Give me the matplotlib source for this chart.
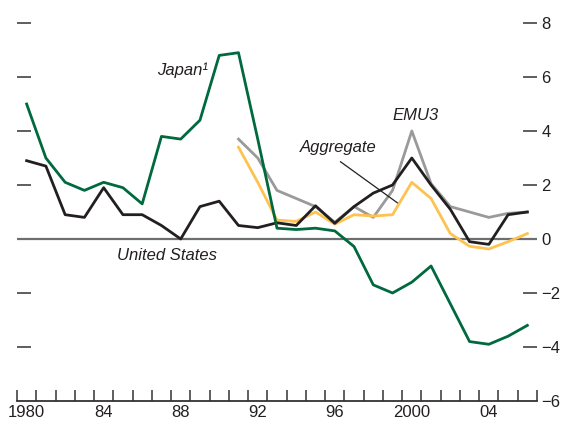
import numpy as np
import matplotlib
matplotlib.use("Agg")
import matplotlib.pyplot as plt

plt.rcParams['font.family'] = ['Liberation Sans', 'DejaVu Sans']

# data (percent)
years = np.arange(1980, 2007)
japan = [5.0, 3.0, 2.1, 1.8, 2.1, 1.9, 1.3, 3.8, 3.7, 4.4, 6.8, 6.9,
         3.7, 0.4, 0.35, 0.4, 0.3, -0.28, -1.7, -2.0, -1.6, -1.0,
         -2.4, -3.8, -3.9, -3.6, -3.2]
us = [2.9, 2.7, 0.9, 0.8, 1.9, 0.9, 0.9, 0.5, 0.0, 1.2, 1.4, 0.5,
      0.42, 0.6, 0.5, 1.23, 0.58, 1.2, 1.7, 2.0, 3.0, 2.0,
      1.1, -0.1, -0.2, 0.9, 1.0]
emu_years = np.arange(1991, 2007)
emu = [3.7, 3.0, 1.8, 1.5, 1.2, 0.62, 1.2, 0.8, 1.8, 4.0, 2.05,
       1.2, 1.0, 0.8, 0.95, 1.0]
aggregate = [3.4, 2.1, 0.7, 0.65, 1.0, 0.55, 0.9, 0.85, 0.9, 2.1, 1.5,
             0.2, -0.27, -0.37, -0.1, 0.2]

xlabels = ['1980', '84', '88', '92', '96', '2000', '04']
xlabel_pos = [1980, 1984, 1988, 1992, 1996, 2000, 2004]
yticks = [-6, -4, -2, 0, 2, 4, 6, 8]

green = '#00693e'
black = '#231f20'
gray = '#9a9a9b'
yellow = '#fdc250'

fig = plt.figure(figsize=(5.63, 4.22), dpi=100)
ax = fig.add_axes([0.0302, 0.0498, 0.9236, 0.8957])

ax.axhline(0, color='#6d6e70', lw=1.6, zorder=1)
ax.plot(emu_years, emu, color=gray, lw=2, zorder=2)
ax.plot(emu_years, aggregate, color=yellow, lw=2, zorder=3)
ax.plot(years, us, color=black, lw=2, zorder=4)
ax.plot(years, japan, color=green, lw=2, zorder=5)

ax.set_xlim(1979.5, 2006.5)
ax.set_ylim(-6, 8)

for s in ['top', 'left', 'right']:
    ax.spines[s].set_visible(False)
ax.spines['bottom'].set_color('#333333')
ax.spines['bottom'].set_linewidth(1.3)

# x ticks at year boundaries, labels at year centers
ax.set_xticks(np.arange(1979.5, 2007, 1.0))
ax.set_xticklabels([])
ax.tick_params(axis='x', which='major', direction='in', length=8, width=1.1, color='#333333')
ax.set_xticks(xlabel_pos, minor=True)
ax.set_xticklabels(xlabels, minor=True)
ax.tick_params(axis='x', which='minor', length=0, pad=3, labelsize=12, labelcolor='#231f20')

ax.set_yticks(yticks)
ax.set_yticklabels(['\u22126', '\u22124', '\u22122', '0', '2', '4', '6', '8'])
ax.tick_params(axis='y', direction='in', length=10, width=1.1, color='#333333',
               left=True, right=True, labelleft=False, labelright=True,
               pad=3, labelsize=12, labelcolor='#231f20')
for t in ax.yaxis.get_major_ticks():
    if t.get_loc() in (0, -6):
        t.tick1line.set_visible(False)
        t.tick2line.set_visible(False)

tstyle = dict(fontsize=12, style='italic', color='#231f20', ha='center', va='center')
ax.text(1988.1, 6.25, 'Japan\u00b9', **tstyle)
ax.text(2000.2, 4.57, 'EMU3', **tstyle)
ax.text(1996.2, 3.4, 'Aggregate', **tstyle)
ax.text(1987.3, -0.62, 'United States', **tstyle)
ax.plot([1996.3, 1999.25], [2.86, 1.34], color='#231f20', lw=0.9, zorder=6)

fig.savefig('out.png', dpi=100)
